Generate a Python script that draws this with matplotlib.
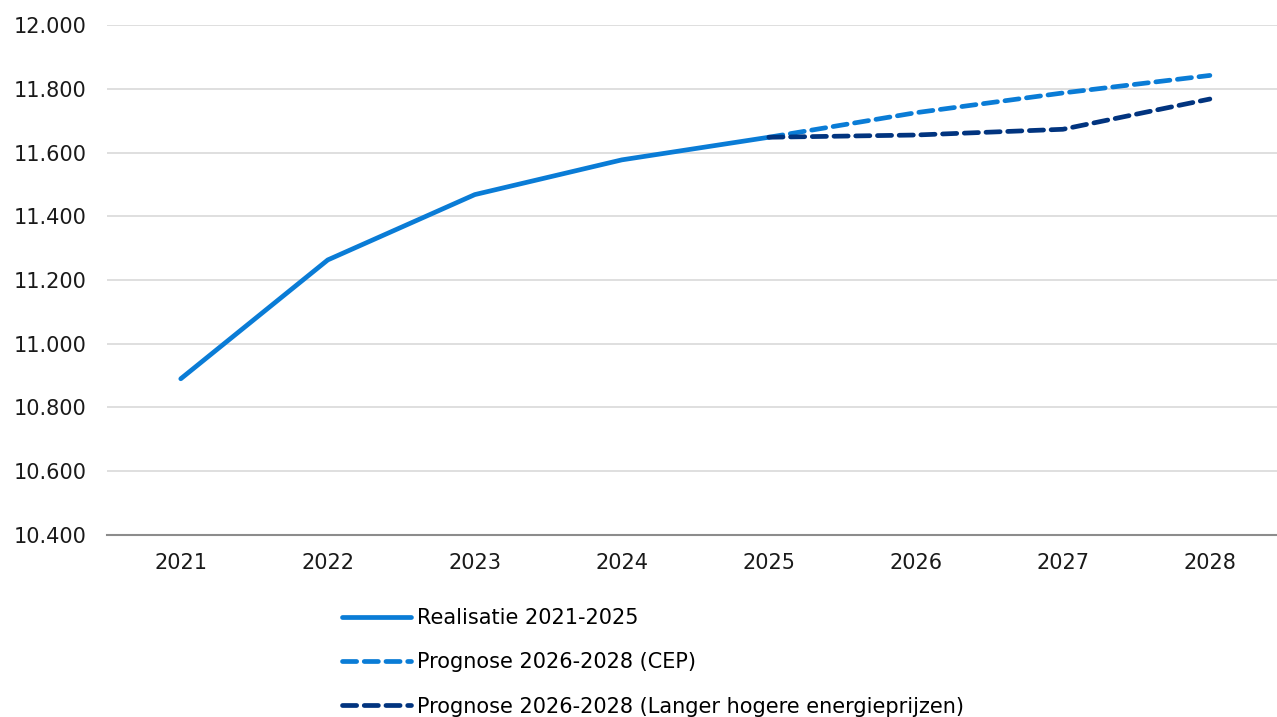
import matplotlib.pyplot as plt
from matplotlib.ticker import FuncFormatter

years = ['2021', '2022', '2023', '2024', '2025', '2026', '2027', '2028']
realisatie = [10890, 11263, 11468, 11577, 11648]
prognose_cep = [11648, 11725, 11787, 11842]
prognose_langer = [11648, 11655, 11673, 11768]

light_blue = '#0A7CD6'
dark_blue = '#01347F'

plt.rcParams['font.family'] = ['DejaVu Sans']

fig = plt.figure(figsize=(12.77, 7.17), dpi=100)
ax = fig.add_axes([0.084, 0.254, 0.921, 0.711])

x = list(range(len(years)))
ax.plot(x[:5], realisatie, color=light_blue, lw=3.4, solid_capstyle='round',
        label='Realisatie 2021-2025', zorder=3)
ax.plot(x[4:], prognose_cep, color=light_blue, lw=3.4, ls=(0, (3, 1.6)),
        dash_capstyle='round', label='Prognose 2026-2028 (CEP)', zorder=3)
ax.plot(x[4:], prognose_langer, color=dark_blue, lw=3.4, ls=(0, (3, 1.6)),
        dash_capstyle='round',
        label='Prognose 2026-2028 (Langer hogere energieprijzen)', zorder=4)

ax.set_xlim(-0.5, 7.5)
ax.set_ylim(10400, 12000)
ax.set_yticks(range(10400, 12001, 200))
ax.yaxis.set_major_formatter(FuncFormatter(lambda v, p: f'{int(v):,}'.replace(',', '.')))
ax.set_xticks(x)
ax.set_xticklabels(years)

ax.grid(axis='y', color='#D9D9D9', lw=1.2)
ax.set_axisbelow(True)
for side in ['top', 'right', 'left']:
    ax.spines[side].set_visible(False)
ax.spines['bottom'].set_color('#8C8C8C')
ax.spines['bottom'].set_linewidth(1.5)
ax.tick_params(axis='both', length=0, labelsize=15, colors='#1A1A1A')
ax.tick_params(axis='y', pad=15)
ax.tick_params(axis='x', pad=13)

fig.legend(loc='upper left', bbox_to_anchor=(0.268, 0.152), frameon=False,
           fontsize=15, handlelength=3.3, handletextpad=0.3, labelspacing=1.17,
           borderaxespad=0, borderpad=0)

fig.savefig('out.png', dpi=100)
